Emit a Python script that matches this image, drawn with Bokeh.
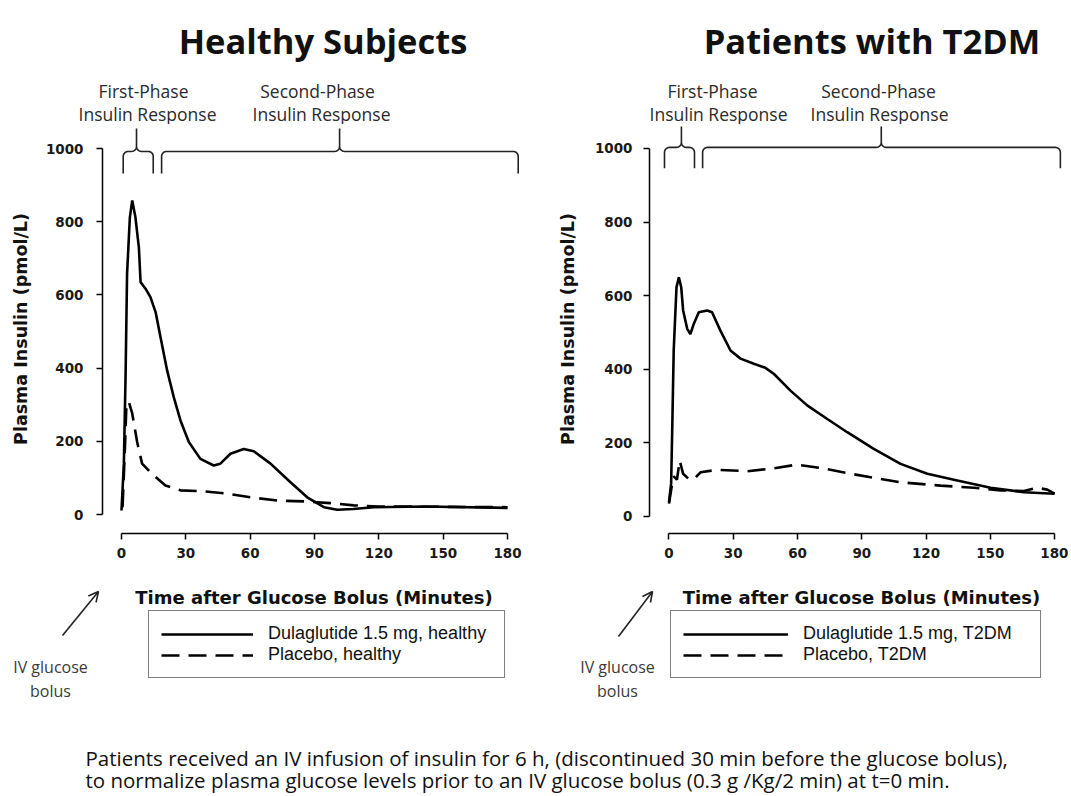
import numpy as np
from bokeh.plotting import figure
from bokeh.models import (Range1d, FixedTicker, Legend, LegendItem, Label,
                          Arrow, OpenHead)
from bokeh.layouts import column, row
from bokeh.embed import file_html
from bokeh.resources import INLINE

# ---------------- data ----------------
x_ticks = [0, 30, 60, 90, 120, 150, 180]
y_ticks = [0, 200, 400, 600, 800, 1000]

titles = ["Healthy Subjects", "Patients with T2DM"]
x_label = "Time after Glucose Bolus (Minutes)"
y_label = "Plasma Insulin (pmol/L)"

healthy_dula_min = [0, 1.1, 1.9, 2.6, 3.9, 5, 6.5, 8.1, 8.9, 11.2, 13.5, 15.9, 18.2,
                    21.3, 24.4, 27.5, 31.4, 36.8, 43, 46.1, 50.8, 57, 61.7, 69.5,
                    78.8, 86.6, 94.4, 100.6, 108, 117.7, 141, 180]
healthy_dula_ins = [11, 139, 380, 658, 812, 858, 812, 730, 635, 617, 594, 553, 484,
                    393, 320, 257, 198, 152, 134, 139, 166, 179, 173, 139,
                    88, 47, 20, 13, 15, 20, 22, 18]

healthy_plac_min = [0.5, 1.6, 2.3, 3.4, 5, 7.3, 9.6, 14.3, 20.5, 27.5, 36.8, 47.7,
                    60.2, 72.6, 85, 97.4, 108.3, 120, 150, 180]
healthy_plac_ins = [20, 180, 303, 308, 276, 198, 139, 111, 79, 66, 64, 58,
                    47, 38, 36, 31, 25, 22, 21, 20]

t2dm_dula_min = [0, 1, 1.5, 2.2, 3.5, 4.6, 5.7, 6.6, 8.5, 10, 11.6, 13.9, 17.8, 20.1,
                 24, 28.7, 33.4, 39.6, 45, 48.9, 56.7, 64.5, 73.9, 83.2, 95.6, 108.1,
                 120.6, 134.6, 150.1, 165.7, 180]
t2dm_dula_ins = [39, 90, 234, 451, 623, 650, 623, 560, 510, 496, 524, 555, 560, 555,
                 505, 451, 429, 415, 404, 388, 342, 302, 265, 229, 184, 143,
                 116, 98, 78, 66, 62]

t2dm_plac_min = [0, 1.5, 2.2, 3.7, 5, 6.6, 9.2, 11.6, 14.7, 22.5, 36.5, 48.9, 59.8,
                 70.7, 83.2, 95.6, 108.1, 126.8, 142.3, 154.8, 165.7, 171.9, 176.6, 180]
t2dm_plac_ins = [35, 90, 109, 100, 152, 116, 102, 101, 120, 127, 123, 131, 141,
                 132, 118, 105, 93, 84, 78, 71, 69, 78, 73, 62]

legend_labels = [["Dulaglutide 1.5 mg, healthy", "Placebo, healthy"],
                 ["Dulaglutide 1.5 mg, T2DM", "Placebo, T2DM"]]
phase_labels = [["First-Phase", "Insulin Response"], ["Second-Phase", "Insulin Response"]]
iv_label = ["IV glucose", "bolus"]
footnote = ["Patients received an IV infusion of insulin for 6 h, (discontinued 30 min before the glucose bolus),",
            "to normalize plasma glucose levels prior to an IV glucose bolus (0.3 g /Kg/2 min) at t=0 min."]

SOLID = dict(line_color="black", line_width=2.6)
DASHED = dict(line_color="black", line_width=2.6, line_dash="18 9")

W = 1068          # total width
TOP_H = 124       # header strip (titles, phase labels)
MAIN_H = 448      # plot row
LOW_H = 223       # footer strip (axis titles, legends, notes)


# ---------------- helpers ----------------
def brace(x0, x1, xt, yb, ym, yt, kx, ky, r=5.0):
    rx, ry = r / kx, r / ky

    def arc(cx, cy, a0, a1, n=8):
        a = np.radians(np.linspace(a0, a1, n))
        return list(cx + rx * np.cos(a)), list(cy + ry * np.sin(a))

    xs, ys = [x0], [yb]
    for (cx, cy, a0, a1) in [(x0 + rx, ym - ry, 180, 90),
                             (xt - rx, ym + ry, 270, 360)]:
        ax_, ay_ = arc(cx, cy, a0, a1)
        xs += ax_; ys += ay_
    xs += [xt, xt]; ys += [yt, ym + ry]
    for (cx, cy, a0, a1) in [(xt + rx, ym + ry, 180, 270),
                             (x1 - rx, ym - ry, 90, 0)]:
        ax_, ay_ = arc(cx, cy, a0, a1)
        xs += ax_; ys += ay_
    xs += [x1]; ys += [yb]
    return xs, ys


def strip(height, top):
    p = figure(x_range=Range1d(0, W), y_range=Range1d(top + height, top),
               width=W, height=height, min_border=0, output_backend="svg",
               toolbar_location=None, title=None,
               x_axis_location=None, y_axis_location=None)
    p.outline_line_color = None
    p.grid.visible = False
    return p


def make_panel(width, xr, yr, bl, br, dula, plac, braces, blev, lbl_std, axl_std):
    bb = 39
    p = figure(x_range=Range1d(*xr), y_range=Range1d(*yr),
               width=width, height=MAIN_H, title=None,
               min_border_left=bl, min_border_right=br,
               min_border_top=0, min_border_bottom=bb,
               output_backend="svg", toolbar_location=None,
               background_fill_color="white", border_fill_color="white")
    p.outline_line_color = None
    p.grid.visible = False
    fw = width - bl - br
    fh = MAIN_H - bb
    kx = fw / (xr[1] - xr[0])
    ky = fh / (yr[1] - yr[0])

    for ax, ticks, b in [(p.xaxis[0], x_ticks, (0, 180)), (p.yaxis[0], y_ticks, (0, 1000))]:
        ax.ticker = FixedTicker(ticks=ticks)
        ax.bounds = b
        ax.axis_line_width = 1.5
        ax.axis_line_color = "black"
        ax.major_tick_line_width = 1.5
        ax.major_tick_line_color = "black"
        ax.major_tick_out = 6
        ax.major_tick_in = 0
        ax.minor_tick_line_color = None
        ax.major_label_text_font = "DejaVu Sans"
        ax.major_label_text_font_style = "bold"
        ax.major_label_text_font_size = "13.5px"
        ax.major_label_text_color = "#1a1a1a"
    p.xaxis.major_label_standoff = 8
    p.yaxis.axis_label = y_label
    p.yaxis.axis_label_text_font = "DejaVu Sans"
    p.yaxis.axis_label_text_font_style = "bold"
    p.yaxis.axis_label_text_color = "#111111"
    p.yaxis.axis_label_text_font_size = "17.5px"
    p.yaxis.major_label_standoff = lbl_std
    p.yaxis.axis_label_standoff = axl_std

    p.line(dula[0], dula[1], **SOLID)
    p.line(plac[0], plac[1], **DASHED)

    for (x0, x1, xt) in braces:
        bx, by = brace(x0, x1, xt, blev[0], blev[1], blev[2], kx, ky)
        p.line(bx, by, line_color="#222222", line_width=1.6)
    return p


p1 = make_panel(540, (-8.86, 187.0), (-51.9, 1065.6), 102, 18,
                (healthy_dula_min, healthy_dula_ins), (healthy_plac_min, healthy_plac_ins),
                [(0.8, 14.8, 7.0), (18.7, 185.0, 101.7)], (932, 992, 1055), 13, 12)

p2 = make_panel(528, (-9.1, 185.1), (-46.2, 1065.2), 109, 3,
                (t2dm_dula_min, t2dm_dula_ins), (t2dm_plac_min, t2dm_plac_ins),
                [(-2.1, 11.9, 5.8), (15.7, 182.7, 99.1)], (946, 1003, 1060), 11, 14)

# ---------------- header strip: titles and phase labels ----------------
p0 = strip(TOP_H, 0)
for t, cx in zip(titles, [322.5, 871.5]):
    p0.add_layout(Label(x=cx, y=40, text=t, text_align="center", text_baseline="alphabetic",
                        text_font="Open Sans", text_font_style="bold",
                        text_font_size="34.5px", text_color="#111111"))
phase_centers = [[(143, 147), (317, 321)], [(712, 718), (878, 879)]]
for panel in phase_centers:
    for (c1, c2), lines in zip(panel, phase_labels):
        for cx, t, by in zip((c1, c2), lines, (90, 113)):
            p0.add_layout(Label(x=cx, y=by, text=t, text_align="center",
                                text_baseline="alphabetic", text_font="Open Sans",
                                text_font_size="17.5px", text_color="#2a2a2a"))

# ---------------- footer strip ----------------
TOP = TOP_H + MAIN_H
p3 = strip(LOW_H, TOP)

for cx in [313.5, 861]:
    p3.add_layout(Label(x=cx, y=597, text=x_label, text_align="center",
                        text_baseline="alphabetic", text_font="DejaVu Sans",
                        text_font_style="bold", text_font_size="18px", text_color="#111111"))

for cx, (xs, ys, xe, ye) in [(50, (62, 635, 98, 591)), (617, (618, 636, 652, 591))]:
    for t, by in zip(iv_label, [666, 690.5]):
        p3.add_layout(Label(x=cx, y=by, text=t, text_align="center",
                            text_baseline="alphabetic", text_font="Open Sans",
                            text_font_size="16px", text_color="#3a3a3a"))
    p3.add_layout(Arrow(end=OpenHead(size=10, line_width=1.6, line_color="#222222"),
                        x_start=xs, y_start=ys, x_end=xe, y_end=ye,
                        line_width=1.6, line_color="#222222"))

for idx, (lx, gw, lw) in enumerate([(148, 92, 224), (670, 105, 225)]):
    rs = p3.line(np.array([np.nan]), np.array([np.nan]), **SOLID)
    rd = p3.line(np.array([np.nan]), np.array([np.nan]), **DASHED)
    leg = Legend(items=[LegendItem(label=legend_labels[idx][0], renderers=[rs]),
                        LegendItem(label=legend_labels[idx][1], renderers=[rd])],
                 location=(lx, TOP + LOW_H - 678), orientation="vertical",
                 border_line_color="black", border_line_width=1.5,
                 background_fill_color="white", background_fill_alpha=1.0,
                 padding=12, spacing=0, margin=0,
                 glyph_width=gw, glyph_height=20, label_height=20, label_width=lw,
                 label_standoff=15, label_text_font="Liberation Sans",
                 label_text_font_size="18px", label_text_color="#111111")
    p3.add_layout(leg)

for t, by in zip(footnote, [757, 779]):
    p3.add_layout(Label(x=85, y=by, text=t, text_align="left", text_baseline="alphabetic",
                        text_font="Open Sans", text_font_size="20.5px", text_color="#111111"))

layout = column(p0, row(p1, p2), p3)
open("out.html", "w").write(file_html(layout, INLINE))
